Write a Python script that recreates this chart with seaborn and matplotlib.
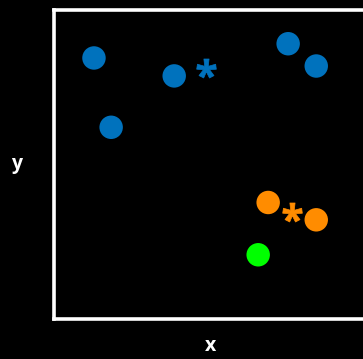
import matplotlib
matplotlib.use("Agg")
import matplotlib.pyplot as plt
import seaborn as sns
import pandas as pd

# point data (axis units 0..10)
point_x = [1.28, 3.85, 1.83, 7.50, 8.40, 6.86, 8.40, 6.54]
point_y = [8.44, 7.86, 6.20, 8.90, 8.18, 3.77, 3.21, 2.08]
point_group = ["a", "a", "a", "a", "a", "b", "b", "c"]

# cluster centres drawn as asterisks
centre_x = [4.86, 7.63]
centre_y = [8.12, 3.47]
centre_group = ["a", "b"]

colors = {"a": "#0072BD", "b": "#FF8C00", "c": "#00FF00"}

df = pd.DataFrame({"x": point_x, "y": point_y, "group": point_group})

sns.set_style("dark")
plt.rcParams["font.family"] = ["Open Sans", "DejaVu Sans"]
plt.rcParams["mathtext.fontset"] = "custom"
plt.rcParams["mathtext.bf"] = "Open Sans:bold"

fig = plt.figure(figsize=(3.63, 3.59), dpi=100, facecolor="black")
ax = fig.add_axes([0.1488, 0.111, 0.86, 0.862])
ax.set_facecolor("black")

sns.scatterplot(data=df, x="x", y="y", hue="group", palette=colors,
                s=285, linewidth=0, legend=False, ax=ax)

for cx, cy, g in zip(centre_x, centre_y, centre_group):
    ax.scatter(cx, cy, marker=r"$\mathbf{*}$", s=200, color=colors[g],
               linewidths=0.5, edgecolors=colors[g])

ax.set_xlim(0, 10)
ax.set_ylim(0, 10)
ax.set_xticks([])
ax.set_yticks([])
ax.grid(False)
for side in ["left", "right", "top", "bottom"]:
    ax.spines[side].set_visible(True)
    ax.spines[side].set_color("white")
    ax.spines[side].set_linewidth(2.6)

ax.set_xlabel("x", color="white", fontsize=14, fontweight="bold")
ax.set_ylabel("y", color="white", fontsize=14, fontweight="bold", rotation=0)
ax.xaxis.set_label_coords(0.5, -0.088)
ax.yaxis.set_label_coords(-0.119, 0.5)
ax.xaxis.label.set_va("center")
ax.yaxis.label.set_va("center")
ax.yaxis.label.set_ha("center")

fig.savefig("out.png", dpi=100, facecolor="black")
plt.close(fig)
